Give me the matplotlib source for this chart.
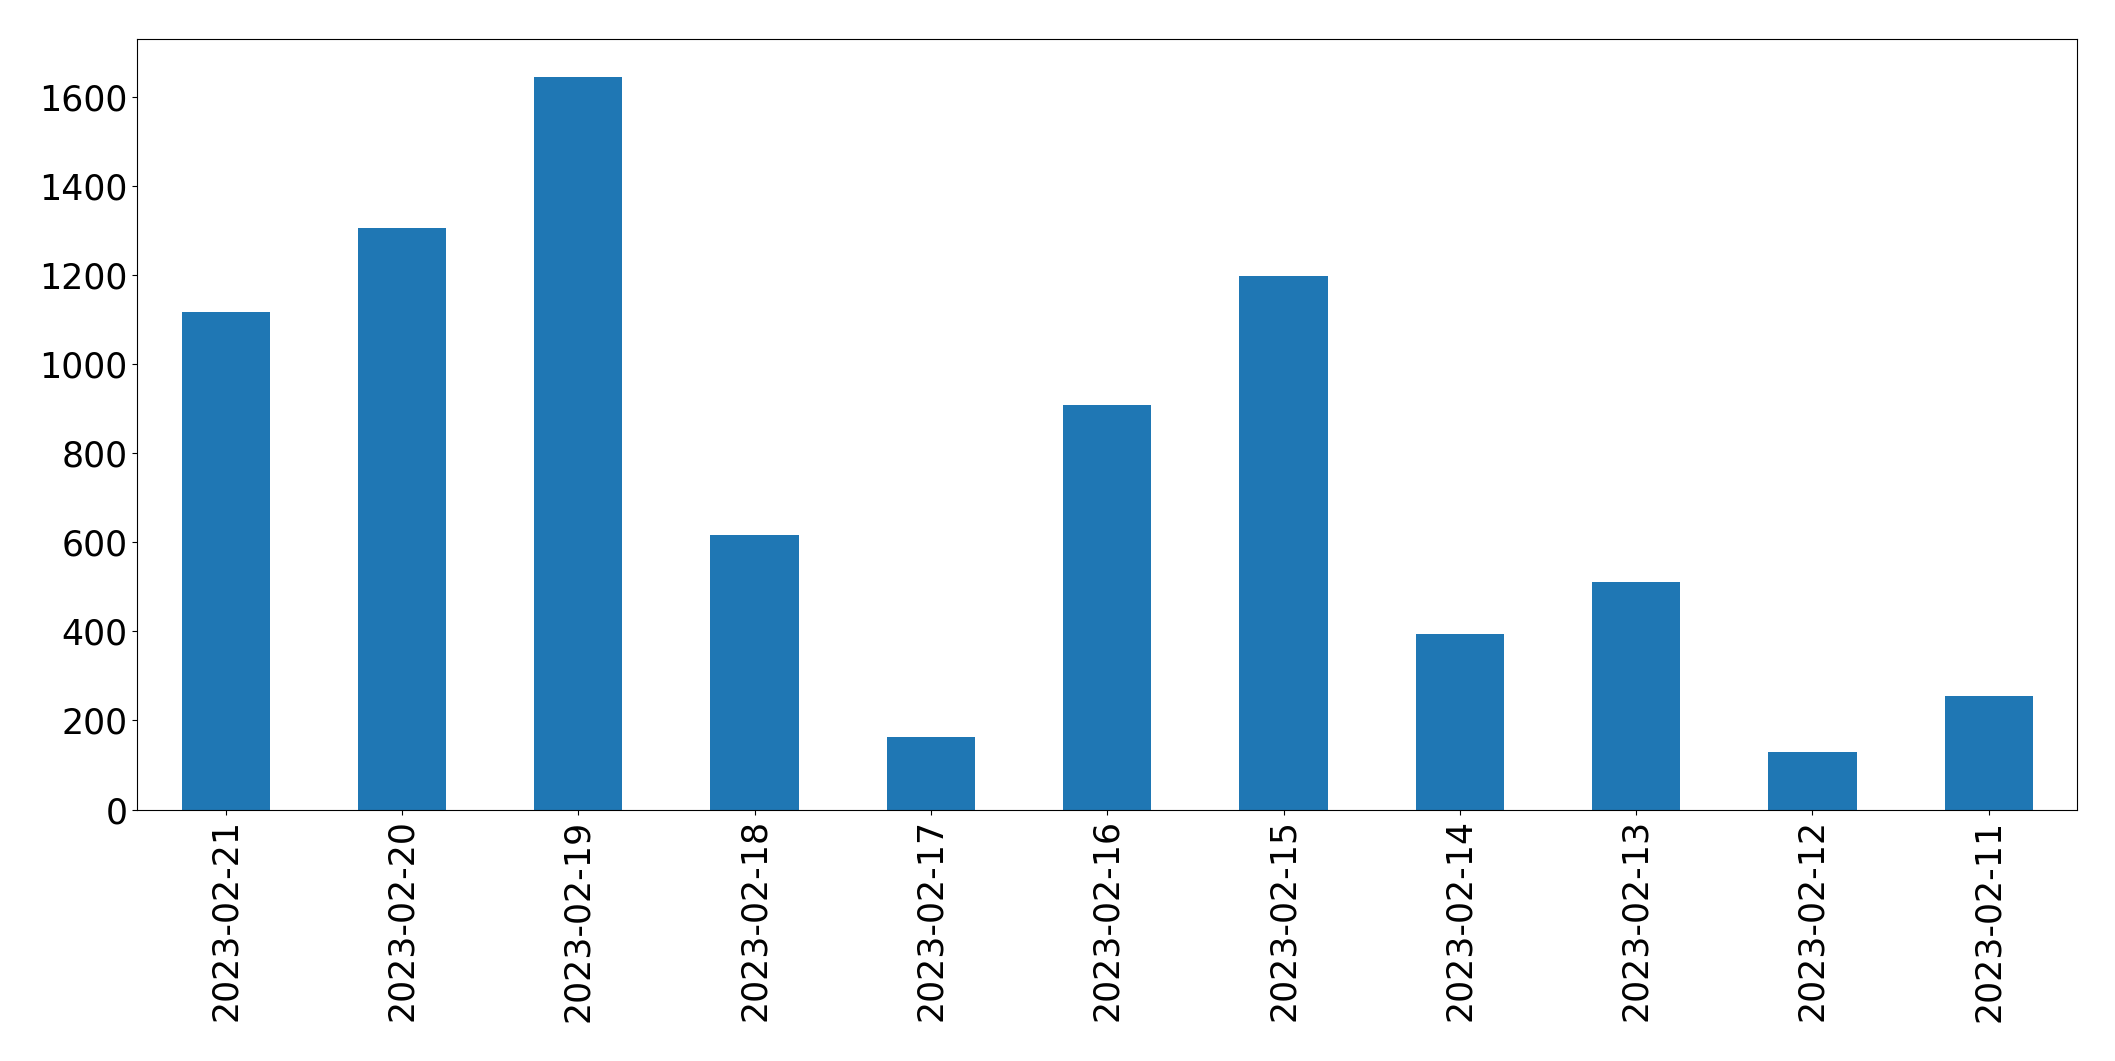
import matplotlib
matplotlib.use("Agg")
import matplotlib.pyplot as plt
import pandas as pd

# daily counts, newest first (as in the original)
dates = ["2023-02-21", "2023-02-20", "2023-02-19", "2023-02-18", "2023-02-17",
         "2023-02-16", "2023-02-15", "2023-02-14", "2023-02-13", "2023-02-12",
         "2023-02-11"]
counts = [1118, 1306, 1645, 617, 162, 909, 1198, 395, 510, 130, 256]

s = pd.Series(counts, index=dates)

fig, ax = plt.subplots(figsize=(21.15, 10.61), dpi=100)
s.plot(kind="bar", ax=ax, color="#1f77b4", fontsize=25)
ax.set_ylim(0, 1730)
plt.subplots_adjust(left=0.065, right=0.982, top=0.963, bottom=0.237)
plt.savefig("out.png", dpi=100)
